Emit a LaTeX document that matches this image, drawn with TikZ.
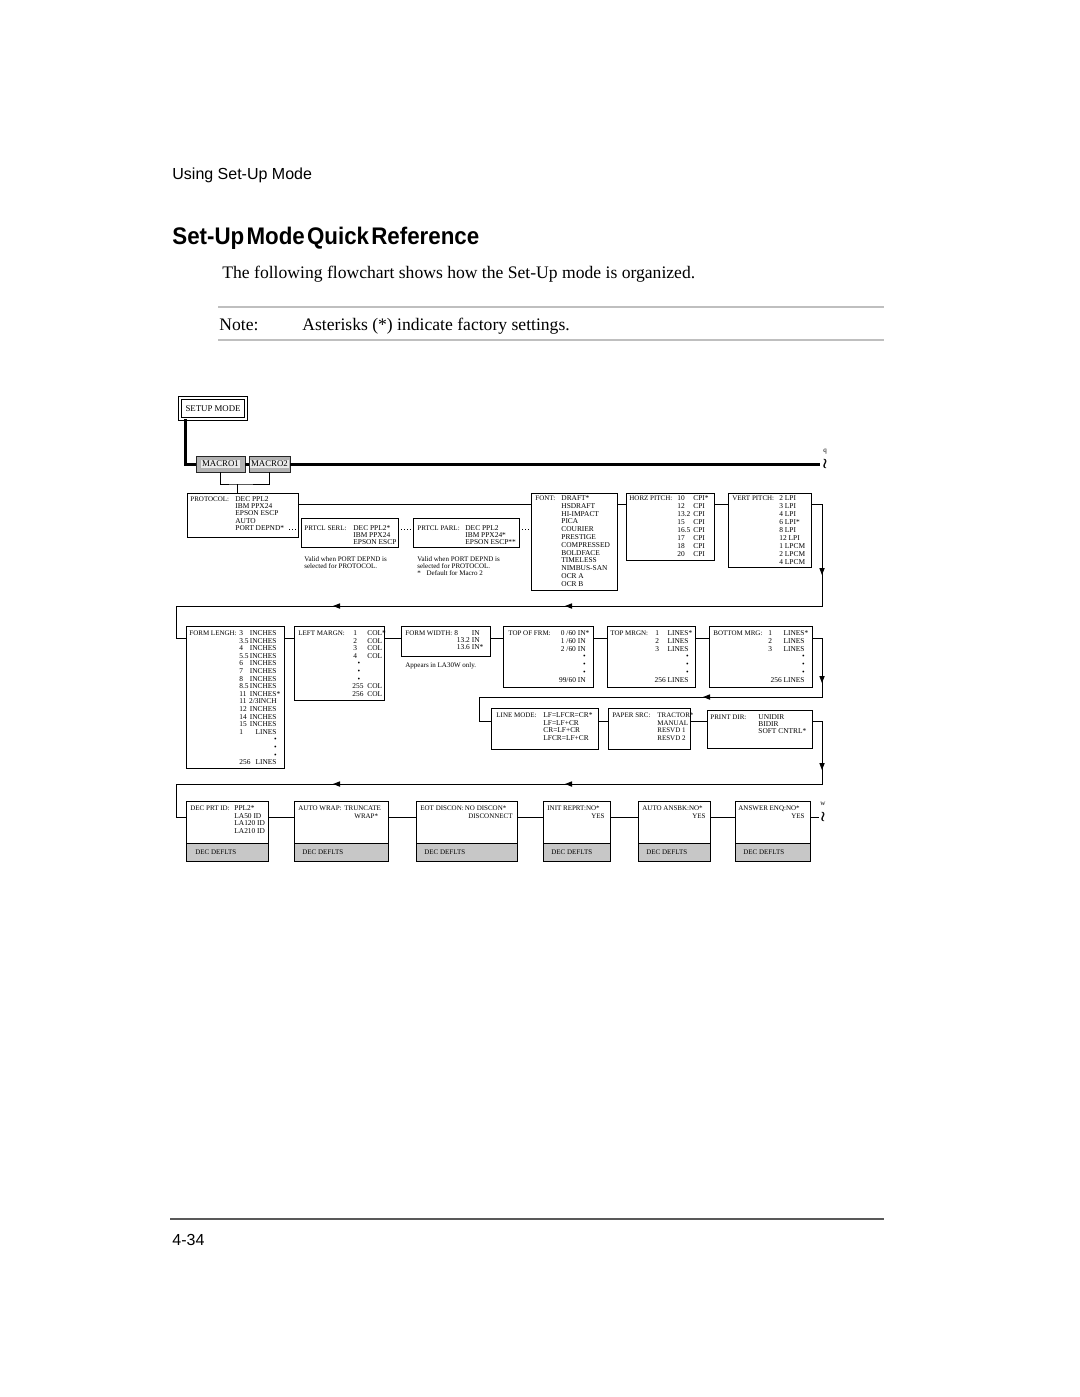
\documentclass[tikz,border=0pt]{standalone}
\usepackage{graphicx}
\usepackage{fontspec}
\setmainfont{Liberation Serif}
\newfontfamily\hdrsans{Liberation Sans}
\usetikzlibrary{arrows.meta,decorations.markings}
\newcommand\dfs[1]{\fontsize{3.5}{#1}\selectfont}
\newcommand\vfs[1]{\fontsize{3.7}{#1}\selectfont}
\newcommand\lns[1]{\begin{tabular}[t]{@{}l@{}}#1\end{tabular}}
\newcommand\rlns[1]{\begin{tabular}[t]{@{}r@{}}#1\end{tabular}}
\newcommand\bxx[6][]{\node[boxs,#1,minimum width={(#5-#3)*0.5pt},minimum height={(#6-#4)*0.5pt}] (#2) at (#3,#4) {};}
\newcommand\dotb{\textbullet}
\begin{document}
\begin{tikzpicture}[x=0.5pt,y=-0.5pt,
  boxs/.style={draw,line width=0.5pt,inner sep=0pt,outer sep=0pt,anchor=north west},
  tx/.style={anchor=base west,inner sep=0pt,font=\dfs{3.75}},
  txr/.style={anchor=base east,inner sep=0pt,font=\dfs{3.75}},
  conn/.style={line width=0.5pt},
  dotc/.style={line width=0.5pt,densely dotted},
  thk/.style={line width=1.5pt},
  mytip/.tip={Triangle[length=3.5pt,width=2.6pt]},
  band/.style={fill=black!22},
  wsym/.style={inner sep=0,font=\fontsize{7}{7}\selectfont},
]
\fill[white] (0,0) rectangle (1080,1397);
\useasboundingbox (0,0) rectangle (1080,1397);

% ---------- page text ----------
\node[anchor=west,inner sep=0,font=\hdrsans\fontsize{8}{9}\selectfont] (hdr) at (172,175) {Using Set-Up Mode};
\node[anchor=west,inner sep=0] (ttl) at (172,238) {\hdrsans\bfseries\fontsize{12}{14}\selectfont\scalebox{0.93}[1]{Set-Up\hspace{1.2pt}Mode\hspace{1.2pt}Quick\hspace{1.2pt}Reference}};
\node[anchor=base west,inner sep=0,font=\fontsize{8.8}{10}\selectfont] (intro) at (222,278) {The following flowchart shows how the Set-Up mode is organized.};
\draw[black!25,line width=0.6pt] (218,307) -- (884,307);
\node[anchor=base west,inner sep=0,font=\fontsize{8.8}{10}\selectfont] (notel) at (219,330) {Note:};
\node[anchor=base west,inner sep=0,font=\fontsize{8.8}{10}\selectfont] (notet) at (302,330) {Asterisks (*) indicate factory settings.};
\draw[black!25,line width=0.6pt] (218,340) -- (884,340);
\draw[black!65,line width=0.8pt] (170,1219) -- (884,1219);
\node[anchor=base west,inner sep=0,font=\hdrsans\fontsize{8}{9}\selectfont] (pgno) at (172,1245) {4-34};

% ---------- setup / macros ----------
\node[boxs,double,double distance=1pt,minimum width=33pt,minimum height=10.5pt] (setup) at (180,398) {};
\node[inner sep=0,font=\fontsize{4.4}{5}\selectfont] (setupt) at (setup.center) {SETUP MODE};
\bxx[fill=black!30,draw=black!85]{m1}{196}{456}{245}{472}
\bxx[fill=black!30,draw=black!85]{m2}{249}{456}{290}{472}
\node[fill=black!8,inner sep=0.5pt,font=\fontsize{4.4}{5}\selectfont] (m1t) at (m1.center) {MACRO1};
\node[fill=black!8,inner sep=0.5pt,font=\fontsize{4.4}{5}\selectfont] (m2t) at (m2.center) {MACRO2};
\coordinate (sx) at (185,0);
\coordinate (qend) at (820,464);
\draw[thk] (setup.south -| sx) |- (m1.west);
\draw[thk] (m1.east) -- (m2.west);
\draw[thk] (m2.east) -- (qend);
\node[wsym] (qsym) at (825,464) {$\wr\mkern-6mu\wr$};
\node[inner sep=0,font=\dfs{4}] (qlab) at (825,452) {q};
\coordinate (brk) at (237,484);

% ---------- row 1 ----------
\bxx{proto}{187}{493}{298}{537}
\node[tx] (protoL) at (190,501.5) {PROTOCOL:};
\node[tx,font=\vfs{3.6}] (protoV) at (235,501.5) {\lns{DEC PPL2\\IBM PPX24\\EPSON ESCP\\AUTO\\PORT DEPND*}};
\draw[conn] (m1.south) |- (brk) -| (m2.south);
\draw[conn] (brk) -- (proto.north -| brk);

\bxx{serl}{301}{518}{398}{547}
\node[tx] (serlL) at (304,530.5) {PRTCL SERL:};
\node[tx,font=\vfs{3.5}] (serlV) at (353,530.5) {\lns{DEC PPL2*\\IBM PPX24\\EPSON ESCP}};
\node[tx,font=\dfs{3.6}] (serlN) at (304,561.5) {\lns{Valid when PORT DEPND is\\selected for PROTOCOL.}};

\bxx{parl}{413}{518}{519}{547}
\node[tx] (parlL) at (417,530.5) {PRTCL PARL:};
\node[tx,font=\vfs{3.5}] (parlV) at (465,530.5) {\lns{DEC PPL2\\IBM PPX24*\\EPSON ESCP**}};
\node[tx,font=\dfs{3.6}] (parlN) at (417,561.5) {\lns{Valid when PORT DEPND is\\selected for PROTOCOL.\\**\hspace{2pt} Default for Macro 2}};

\bxx{font}{531}{493}{617}{590}
\node[tx] (fontL) at (535,500.5) {FONT:};
\node[tx,font=\vfs{3.9}] (fontV) at (561,500.5) {\lns{DRAFT*\\HSDRAFT\\HI-IMPACT\\PICA\\COURIER\\PRESTIGE\\COMPRESSED\\BOLDFACE\\TIMELESS\\NIMBUS-SAN\\OCR A\\OCR B}};

\bxx{horz}{626}{493}{714}{560}
\node[tx] (horzL) at (629,500.5) {HORZ PITCH:};
\node[tx,font=\vfs{4}] (horzN) at (677,500.5) {\lns{10\\12\\13.2\\15\\16.5\\17\\18\\20}};
\node[tx,font=\vfs{4}] (horzU) at (693,500.5) {\lns{CPI*\\CPI\\CPI\\CPI\\CPI\\CPI\\CPI\\CPI}};

\bxx{vert}{728}{493}{811}{567}
\node[tx] (vertL) at (732,500.5) {VERT PITCH:};
\node[tx,font=\vfs{4}] (vertV) at (779,500.5) {\lns{2 LPI\\3 LPI\\4 LPI\\6 LPI*\\8 LPI\\12 LPI\\1 LPCM\\2 LPCM\\4 LPCM}};

\coordinate (y1) at (0,504);
\coordinate (pd) at (289,529);
\draw[conn] (proto.east |- y1) -- (font.west |- y1);
\draw[conn] (font.east |- y1) -- (horz.west |- y1);
\draw[conn] (horz.east |- y1) -- (vert.west |- y1);
\draw[dotc] (pd) -- (serl.west |- pd);
\draw[dotc] (serl.east |- pd) -- (parl.west |- pd);
\draw[dotc] (parl.east |- pd) -- (font.west |- pd);

% ---------- row 2 ----------
\bxx{flen}{186}{626}{284}{768}
\node[tx] (flenL) at (189,635.5) {FORM LENGH:};
\node[tx,font=\vfs{3.8}] (flenN) at (239,635.5) {\lns{3\\3.5\\4\\5.5\\6\\7\\8\\8.5\\11\\11\\12\\14\\15\\1\\ \\ \\ \\256}};
\node[txr,font=\vfs{3.8}] (flenU) at (277,635.5) {\rlns{INCHES\\INCHES\\INCHES\\INCHES\\INCHES\\INCHES\\INCHES\\INCHES\\INCHES\rlap{*}\\2/3INCH\\INCHES\\INCHES\\INCHES\\LINES\\\dotb\hspace{8pt}\\\dotb\hspace{8pt}\\\dotb\hspace{8pt}\\LINES}};

\bxx{lmar}{294}{626}{384}{700}
\node[tx] (lmarL) at (298,635.5) {LEFT MARGN:};
\node[tx,font=\vfs{3.8}] (lmarN) at (352,635.5) {\lns{\hspace{0.5pt}1\\\hspace{0.5pt}2\\\hspace{0.5pt}3\\\hspace{0.5pt}4\\\hspace{2.6pt}\dotb\\\hspace{2.6pt}\dotb\\\hspace{2.6pt}\dotb\\255\\256}};
\node[tx,font=\vfs{3.8}] (lmarU) at (367,635.5) {\lns{COL*\\COL\\COL\\COL\\ \\ \\ \\COL\\COL}};

\bxx{fwid}{401}{626}{490}{656}
\node[tx] (fwidL) at (405,635.5) {FORM WIDTH:};
\node[tx,font=\vfs{3.5}] (fwidN) at (454,635.5) {8};
\node[txr,font=\vfs{3.5}] (fwidV) at (480,635.5) {\rlns{IN\\13.2 IN\\13.6 IN\rlap{*}}};
\node[tx] (fwidNote) at (405,667.5) {Appears in LA30W only.};

\bxx{tof}{503}{626}{593}{687}
\node[tx] (tofL) at (508,635.5) {TOP OF FRM:};
\node[txr,font=\vfs{3.9}] (tofV) at (586,635.5) {\rlns{0 /60 IN\rlap{*}\\1 /60 IN\\2 /60 IN\\\dotb\hspace{4.5pt}\\\dotb\hspace{4.5pt}\\\dotb\hspace{4.5pt}\\99/60 IN}};

\bxx{tmr}{607}{626}{695}{687}
\node[tx] (tmrL) at (610,635.5) {TOP MRGN:};
\node[tx,font=\vfs{3.9}] (tmrN) at (655,635.5) {\lns{1\\2\\3}};
\node[txr,font=\vfs{3.9}] (tmrV) at (689,635.5) {\rlns{LINES\rlap{*}\\LINES\\LINES\\\dotb\hspace{7pt}\\\dotb\hspace{7pt}\\\dotb\hspace{7pt}\\256 LINES}};

\bxx{bmr}{709}{626}{812}{687}
\node[tx] (bmrL) at (713,635.5) {BOTTOM MRG:};
\node[tx,font=\vfs{3.9}] (bmrN) at (768,635.5) {\lns{1\\2\\3}};
\node[txr,font=\vfs{3.9}] (bmrV) at (805,635.5) {\rlns{LINES\rlap{*}\\LINES\\LINES\\\dotb\hspace{7.5pt}\\\dotb\hspace{7.5pt}\\\dotb\hspace{7.5pt}\\256 LINES}};

\coordinate (y2) at (0,638);
\draw[conn] (flen.east |- y2) -- (lmar.west |- y2);
\draw[conn] (lmar.east |- y2) -- (fwid.west |- y2);
\draw[conn] (fwid.east |- y2) -- (tof.west |- y2);
\draw[conn] (tof.east |- y2) -- (tmr.west |- y2);
\draw[conn] (tmr.east |- y2) -- (bmr.west |- y2);

\coordinate (k1) at (822,606);
\coordinate (k2) at (176,606);
\draw[conn,postaction={decorate},decoration={markings,
   mark=at position 41pt with {\arrow{mytip}},
   mark=at position 185pt with {\arrow{mytip}},
   mark=at position 301pt with {\arrow{mytip}}}]
  (vert.east |- y1) -| (k1) -- (k2) |- (flen.west |- y2);

% ---------- row 2b ----------
\bxx{lmode}{491}{708}{598}{749}
\node[tx] (lmodeL) at (496,717.5) {LINE MODE:};
\node[tx,font=\vfs{3.75}] (lmodeV) at (543,717.5) {\lns{LF=LFCR=CR*\\LF=LF+CR\\CR=LF+CR\\LFCR=LF+CR}};

\bxx{psrc}{608}{708}{690}{749}
\node[tx] (psrcL) at (612,717.5) {PAPER SRC:};
\node[tx] (psrcV) at (657,717.5) {\lns{TRACTOR*\\MANUAL\\RESVD 1\\RESVD 2}};

\bxx{pdir}{707}{710}{812}{748}
\node[tx] (pdirL) at (710,719.5) {PRINT DIR:};
\node[tx,font=\vfs{3.5}] (pdirV) at (758,719.5) {\lns{UNIDIR\\BIDIR\\SOFT CNTRL*}};

\coordinate (y2b) at (0,721);
\draw[conn] (lmode.east |- y2b) -- (psrc.west |- y2b);
\draw[conn] (psrc.east |- y2b) -- (pdir.west |- y2b);

\coordinate (k3) at (822,697);
\coordinate (k4) at (479,697);
\draw[conn,postaction={decorate},decoration={markings,
   mark=at position 27.5pt with {\arrow{mytip}},
   mark=at position 94pt with {\arrow{mytip}}}]
  (bmr.east |- y2) -| (k3) -- (k4) |- (lmode.west |- y2b);

% ---------- row 3 ----------
\bxx{dprt}{186}{801}{268}{861}
\bxx{awrap}{294}{801}{388}{861}
\bxx{eot}{416}{801}{517}{861}
\bxx{init}{543}{801}{610}{861}
\bxx{aans}{638}{801}{710}{861}
\bxx{aenq}{735}{801}{810}{861}
\bxx[band]{b1}{186}{843}{268}{861}
\bxx[band]{b2}{294}{843}{388}{861}
\bxx[band]{b3}{416}{843}{517}{861}
\bxx[band]{b4}{543}{843}{610}{861}
\bxx[band]{b5}{638}{843}{710}{861}
\bxx[band]{b6}{735}{843}{810}{861}
\foreach \b/\x in {b1/195,b2/302,b3/424,b4/551,b5/646,b6/743}
  \node[tx] (\b t) at (\x,854) {DEC DEFLTS};

\node[tx] (dprtL) at (190,810.5) {DEC PRT ID:};
\node[tx,font=\vfs{3.75}] (dprtV) at (234,810.5) {\lns{PPL2*\\LA50 ID\\LA120 ID\\LA210 ID}};
\node[tx] (awrapL) at (298,810.5) {AUTO WRAP:};
\node[tx] (awrapV) at (344,810.5) {\lns{TRUNCATE\\\hspace{5pt}WRAP*}};
\node[tx] (eotL) at (420,810.5) {EOT DISCON:\,NO DISCON*};
\node[txr] (eotV) at (513,818.3) {DISCONNECT};
\node[tx] (initL) at (547,810.5) {INIT REPRT:NO*};
\node[txr] (initV) at (605,818.3) {YES};
\node[tx] (aansL) at (642,810.5) {AUTO ANSBK:NO*};
\node[txr] (aansV) at (706,818.3) {YES};
\node[tx] (aenqL) at (738,810.5) {ANSWER ENQ:NO*};
\node[txr] (aenqV) at (805,818.3) {YES};

\coordinate (y3) at (0,817);
\draw[conn] (dprt.east |- y3) -- (awrap.west |- y3);
\draw[conn] (awrap.east |- y3) -- (eot.west |- y3);
\draw[conn] (eot.east |- y3) -- (init.west |- y3);
\draw[conn] (init.east |- y3) -- (aans.west |- y3);
\draw[conn] (aans.east |- y3) -- (aenq.west |- y3);
\coordinate (wend) at (819,817);
\draw[conn] (aenq.east |- y3) -- (wend);
\node[wsym] (wsymn) at (823,817) {$\wr\mkern-6mu\wr$};
\node[inner sep=0,font=\dfs{4}] (wlab) at (823,804) {w};

\coordinate (k5) at (822,784);
\coordinate (k6) at (176,784);
\draw[conn,postaction={decorate},decoration={markings,
   mark=at position 29.5pt with {\arrow{mytip}},
   mark=at position 165pt with {\arrow{mytip}},
   mark=at position 281pt with {\arrow{mytip}}}]
  (pdir.east |- y2b) -| (k5) -- (k6) |- (dprt.west |- y3);
\end{tikzpicture}
\end{document}
